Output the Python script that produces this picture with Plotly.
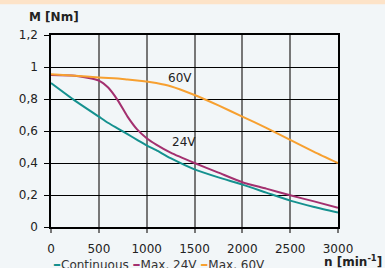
import plotly.graph_objects as go

speed = [0, 250, 500, 600, 700, 800, 900, 1000, 1100, 1250, 1500, 1750, 2000, 2250, 2500, 2750, 3000]
continuous = [0.90, 0.79, 0.69, 0.65, 0.615, 0.58, 0.545, 0.51, 0.48, 0.43, 0.36, 0.31, 0.265, 0.215, 0.165, 0.125, 0.09]
max_24v = [0.95, 0.945, 0.915, 0.87, 0.79, 0.69, 0.61, 0.555, 0.515, 0.465, 0.40, 0.34, 0.28, 0.24, 0.198, 0.16, 0.12]
max_60v = [0.955, 0.945, 0.935, 0.932, 0.928, 0.922, 0.916, 0.91, 0.9, 0.88, 0.825, 0.76, 0.69, 0.62, 0.545, 0.47, 0.40]

x_ticks = [0, 500, 1000, 1500, 2000, 2500, 3000]
x_tick_labels = ["0", "500", "1000", "1500", "2000", "2500", "3000"]
y_ticks = [0, 0.2, 0.4, 0.6, 0.8, 1.0, 1.2]
y_tick_labels = ["0", "0,2", "0,4", "0,6", "0,8", "1", "1,2"]

series_names = ["Continuous", "Max. 24V", "Max. 60V"]
colors = ["#15918f", "#a3306f", "#f7a030"]

FONT = "DejaVu Sans"
TXT = "#222222"

fig = go.Figure()
for name, ys, c in zip(series_names, [continuous, max_24v, max_60v], colors):
    fig.add_trace(go.Scatter(x=speed, y=ys, mode="lines", name=name,
                             line=dict(color=c, width=2, shape="spline", smoothing=0.6),
                             showlegend=False))

legend_text = " ".join(
    f'<span style="color:{c};font-size:16px"><b>–</b></span>{n}' for n, c in zip(series_names, colors)
)

fig.update_layout(
    width=385, height=268,
    margin=dict(l=51, r=47, t=35, b=41),
    paper_bgcolor="#f2f6f8", plot_bgcolor="#f2f6f8",
    font=dict(family=FONT, size=12, color=TXT),
    xaxis=dict(range=[0, 3000], tickvals=x_ticks, ticktext=x_tick_labels,
               showgrid=True, gridcolor="#777777", gridwidth=1.5,
               ticks="outside", ticklen=4, tickcolor="#777777", tickwidth=1.5,
               showline=True, linecolor="black", linewidth=1.5, mirror=True,
               zeroline=False, ticklabelstandoff=6, fixedrange=True),
    yaxis=dict(range=[0, 1.2], tickvals=y_ticks, ticktext=y_tick_labels,
               showgrid=True, gridcolor="black", gridwidth=1.2,
               ticks="outside", ticklen=5, tickcolor="black", tickwidth=1.2,
               showline=True, linecolor="black", linewidth=1.5, mirror=True,
               zeroline=False, ticklabelstandoff=4, fixedrange=True),
    shapes=[dict(type="rect", xref="paper", yref="paper", x0=-0.2, x1=1.2,
                 y0=1.16, y1=1.3, line=dict(width=0),
                 fillcolor="#fde3c8", layer="above")],
    annotations=[
        dict(text="<b>M [Nm]</b>", xref="paper", yref="paper", x=-0.085, y=1.094,
             xanchor="left", yanchor="middle", showarrow=False, font=dict(size=12, color=TXT)),
        dict(text="<b>n [min<sup>-1</sup>]</b>", xref="paper", yref="paper", x=1.16, y=-0.175,
             xanchor="right", yanchor="middle", showarrow=False, font=dict(size=12, color=TXT)),
        dict(text=legend_text, xref="paper", yref="paper", x=0.0, y=-0.19,
             xanchor="left", yanchor="middle", showarrow=False, font=dict(size=12, color="#333333")),
        dict(text="60V", x=1350, y=0.93, xref="x", yref="y", showarrow=False,
             xanchor="center", yanchor="middle", font=dict(size=12, color=TXT)),
        dict(text="24V", x=1390, y=0.53, xref="x", yref="y", showarrow=False,
             xanchor="center", yanchor="middle", font=dict(size=12, color=TXT)),
    ],
)

fig.write_html("out.html", config={"displayModeBar": False},
               post_script="document.body.style.margin='0';document.body.style.overflow='hidden';")
